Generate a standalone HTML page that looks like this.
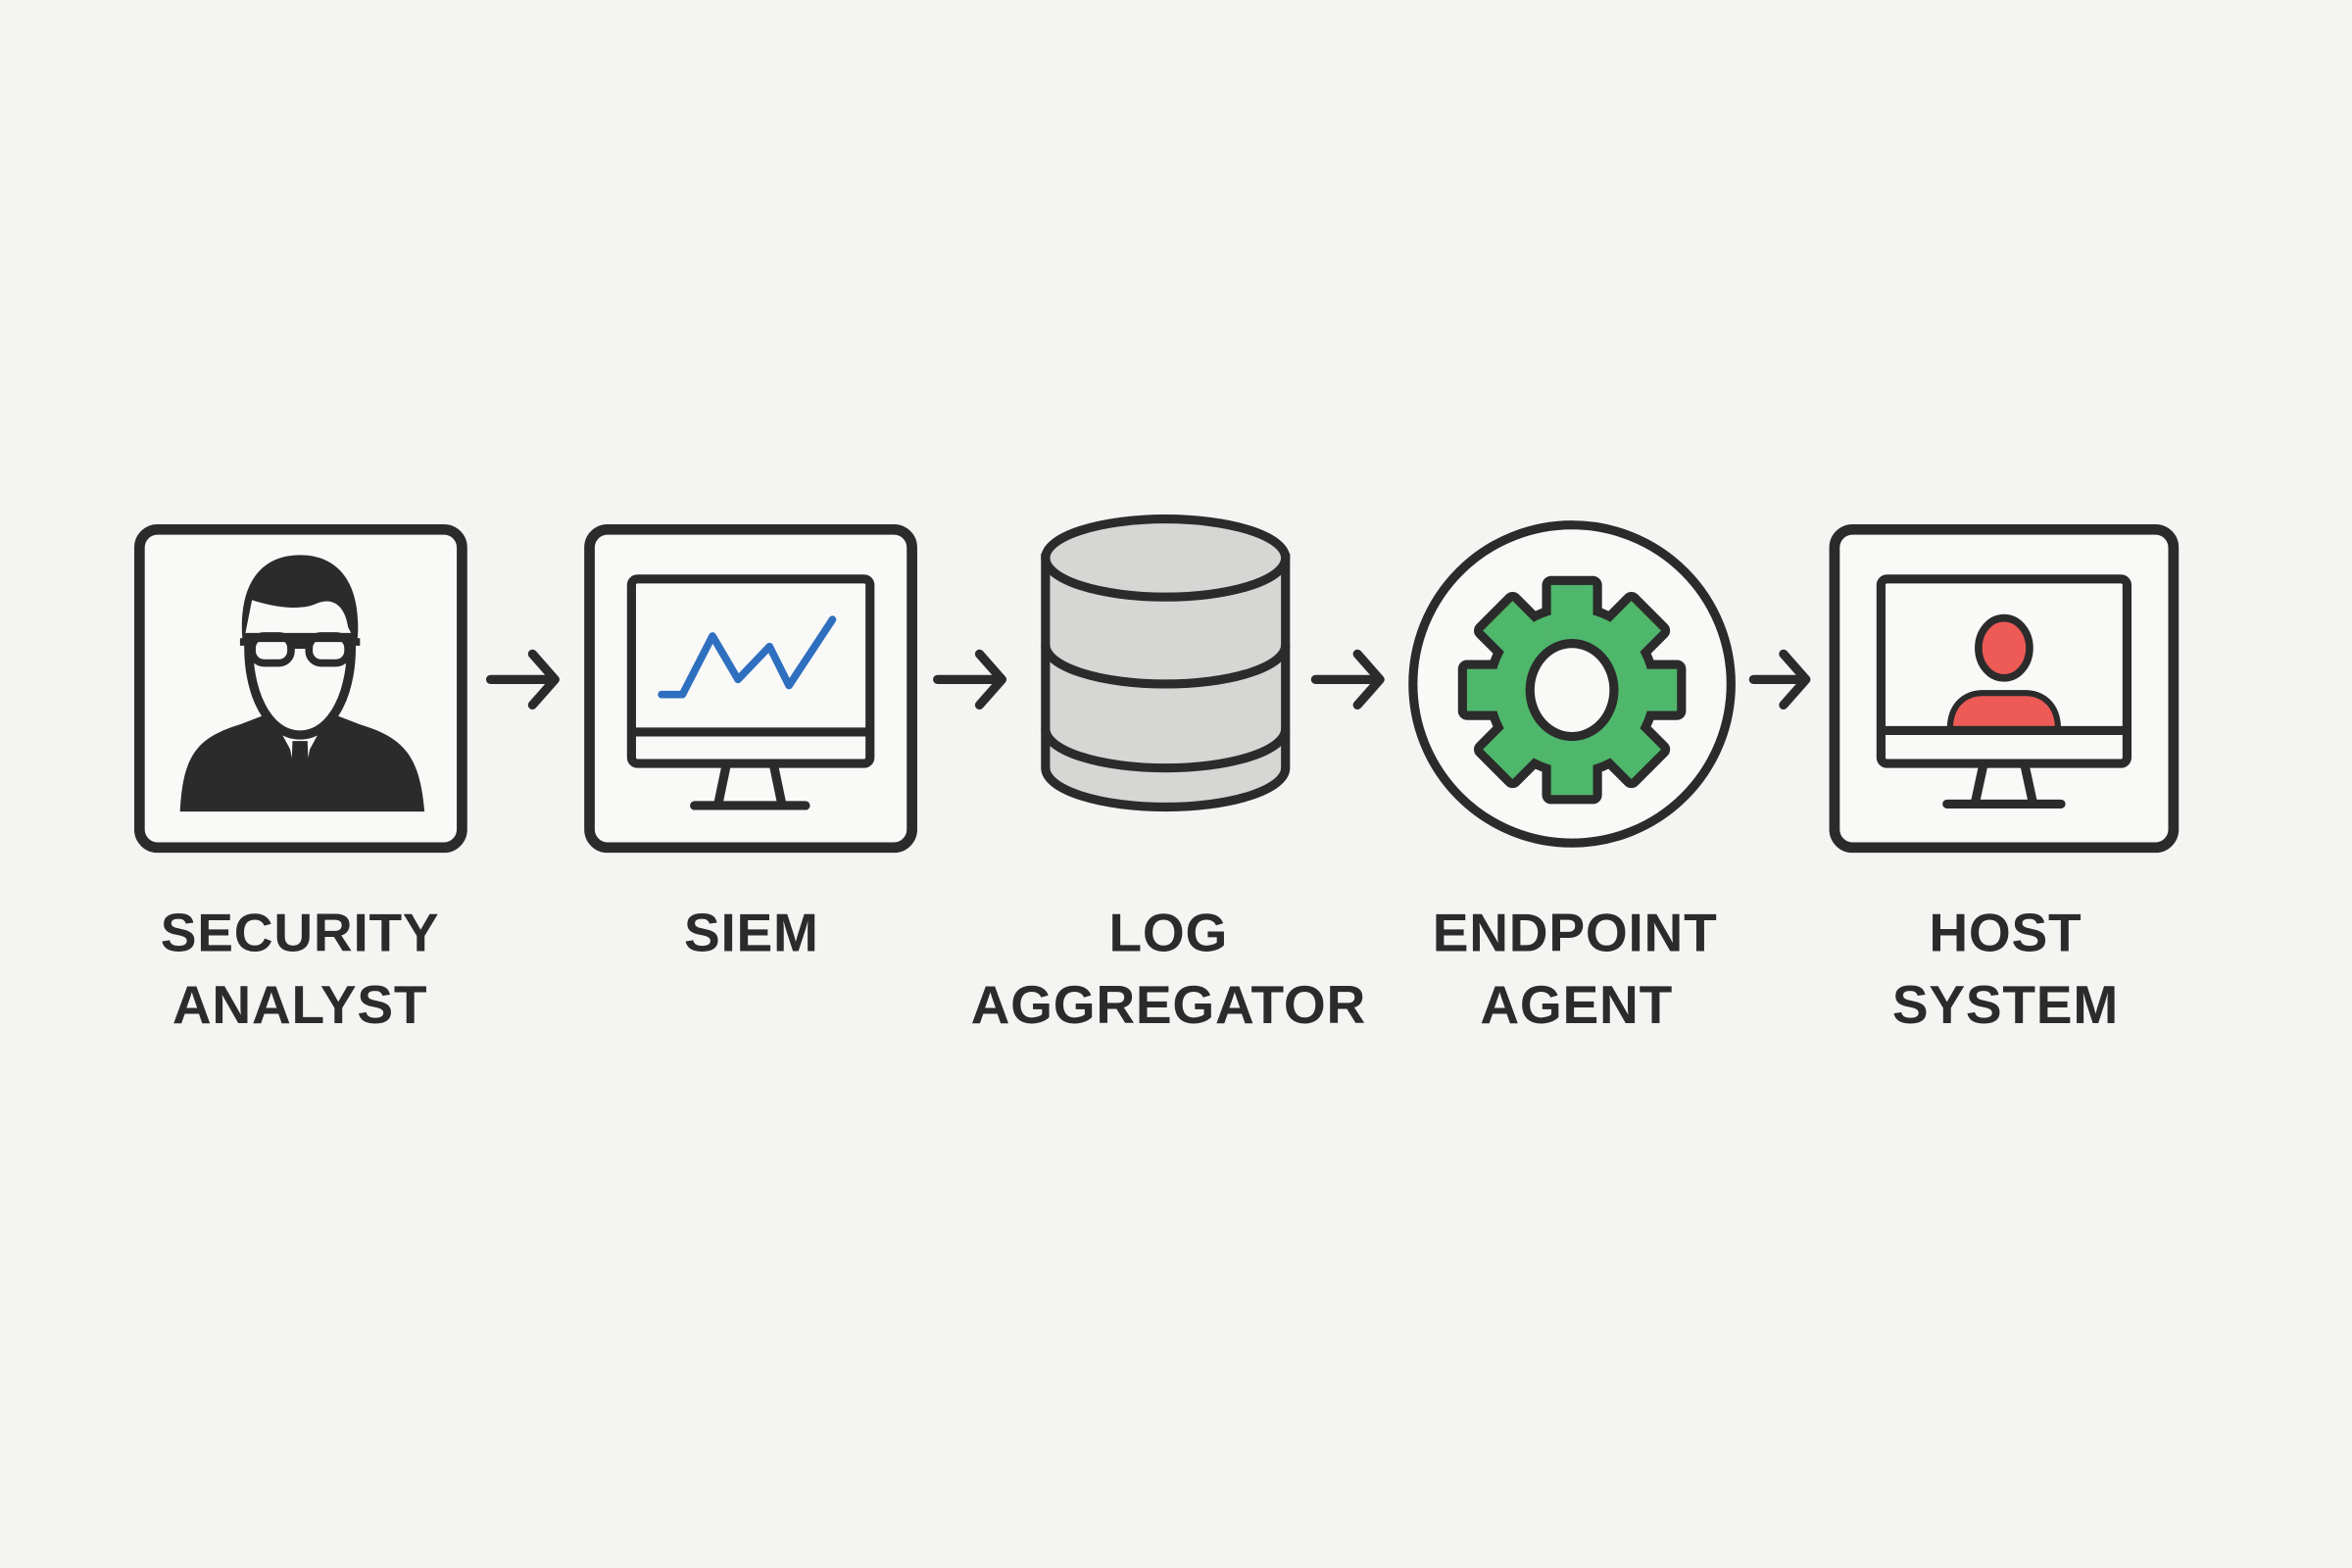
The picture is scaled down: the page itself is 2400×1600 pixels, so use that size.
<!DOCTYPE html>
<html><head><meta charset="utf-8"><style>
html,body{margin:0;padding:0;background:#f4f4f2;}
svg{display:block}
</style></head><body>
<svg width="2400" height="1600" viewBox="0 0 1568 1045.33" preserveAspectRatio="none" xmlns="http://www.w3.org/2000/svg">
<rect width="1568" height="1046" fill="#f4f4f2"/>
<g fill="none" stroke="#2b2b2b" stroke-width="7" stroke-linecap="round" stroke-linejoin="round">
  <rect x="93" y="353" width="215" height="212" rx="12" fill="#f9f9f8"/>
  <rect x="393" y="353" width="215" height="212" rx="12" fill="#f9f9f8"/>
  <rect x="1223" y="353" width="226" height="212" rx="12" fill="#f9f9f8"/>
  <circle cx="1048" cy="456" r="106" fill="#f9f9f8" stroke-width="6"/>
  <path d="M327 453H369M355 436L370 453L355 470" stroke-width="6"/>
  <path d="M625 453H667M653 436L668 453L653 470" stroke-width="6"/>
  <path d="M877 453H919M905 436L920 453L905 470" stroke-width="6"/>
  <path d="M1169 453H1203M1189 436L1204 453L1189 470" stroke-width="6"/>
</g>
<!-- person -->
<g>
  <path d="M120 541 C122 505 130 492 160 483 L178 476 L200 515 L222 476 L240 483 C270 492 280 505 283 541 Z" fill="#2b2b2b"/>
  <path d="M180 478 L192 500 L196 520 L200 498 L204 520 L208 500 L220 478" fill="#f9f9f8" stroke="#2b2b2b" stroke-width="3"/>
  <path d="M195 494 L205 494 L206 520 L200 528 L194 520 Z" fill="#2b2b2b"/>
  <path d="M166 425 C164 460 178 490 200 490 C222 490 236 460 234 425 Z" fill="#f9f9f8" stroke="#2b2b2b" stroke-width="6"/>
  <path d="M162 430 C158 395 170 370 200 370 C228 370 242 392 238 430 L232 418 C230 404 222 398 212 402 C200 408 180 404 168 400 Z" fill="#2b2b2b"/>
  <g fill="none" stroke="#2b2b2b" stroke-width="5">
    <rect x="168" y="424" width="26" height="18" rx="8"/>
    <rect x="206" y="424" width="26" height="18" rx="8"/>
    <path d="M194 430H206M160 428H168M232 428H240"/>
  </g>
</g>
<!-- SIEM monitor -->
<g fill="none" stroke="#2b2b2b" stroke-width="6" stroke-linecap="round" stroke-linejoin="round">
  <rect x="421" y="386" width="159" height="123" rx="4" fill="#f9f9f8"/>
  <path d="M423 488H578"/>
  <path d="M484 511L479 535M516 511L521 535"/>
  <path d="M463 537H537" stroke-width="6"/>
  <polyline points="441,463 455,463 475,424 492,453 513,431 526,457 555,413" stroke="#2f6fbf" stroke-width="5"/>
</g>
<!-- Database -->
<g stroke="#2b2b2b" stroke-width="6" fill="#d6d6d4">
  <path d="M697 372 V512 A80 26 0 0 0 857 512 V372 Z"/>
  <ellipse cx="777" cy="372" rx="80" ry="26"/>
  <path d="M697 430 A80 26 0 0 0 857 430" fill="none"/>
  <path d="M697 486 A80 26 0 0 0 857 486" fill="none"/>
</g>
<!-- Gear -->
<g transform="translate(1048,460)">
  <g stroke="#2b2b2b" stroke-width="12" stroke-linejoin="round" fill="#2b2b2b">
    <circle r="52"/>
    <rect x="-14" y="-70" width="28" height="140"/>
    <rect x="-14" y="-70" width="28" height="140" transform="rotate(45)"/>
    <rect x="-14" y="-70" width="28" height="140" transform="rotate(90)"/>
    <rect x="-14" y="-70" width="28" height="140" transform="rotate(135)"/>
  </g>
  <g fill="#4fb76b">
    <circle r="52"/>
    <rect x="-14" y="-70" width="28" height="140"/>
    <rect x="-14" y="-70" width="28" height="140" transform="rotate(45)"/>
    <rect x="-14" y="-70" width="28" height="140" transform="rotate(90)"/>
    <rect x="-14" y="-70" width="28" height="140" transform="rotate(135)"/>
  </g>
  <ellipse rx="28" ry="31" fill="#f9f9f8" stroke="#2b2b2b" stroke-width="6"/>
</g>
<!-- Host monitor -->
<g fill="none" stroke="#2b2b2b" stroke-width="6" stroke-linecap="round" stroke-linejoin="round">
  <rect x="1254" y="386" width="164" height="123" rx="4" fill="#f9f9f8"/>
  <path d="M1300 486 C1300 470 1310 462 1322 462 H1350 C1362 462 1372 470 1372 486 Z" fill="#ee5a55" stroke-width="4"/>
  <path d="M1256 487H1416"/>
  <ellipse cx="1336" cy="432" rx="17" ry="20" fill="#ee5a55" stroke-width="5"/>
  <path d="M1322 511L1317 534M1350 511L1355 534"/>
  <path d="M1298 536H1374"/>
</g>
<!-- Labels -->
<g font-family="Liberation Sans, DejaVu Sans, sans-serif" font-weight="bold" font-size="36" fill="#2b2b2b" text-anchor="middle" letter-spacing="0.5">
  <text x="200" y="634">SECURITY</text>
  <text x="200" y="682">ANALYST</text>
  <text x="501" y="634">SIEM</text>
  <text x="779" y="634">LOG</text>
  <text x="779" y="682">AGGREGATOR</text>
  <text x="1050" y="634">ENDPOINT</text>
  <text x="1051" y="682">AGENT</text>
  <text x="1337" y="634">HOST</text>
  <text x="1337" y="682">SYSTEM</text>
</g>
</svg>
</body></html>
